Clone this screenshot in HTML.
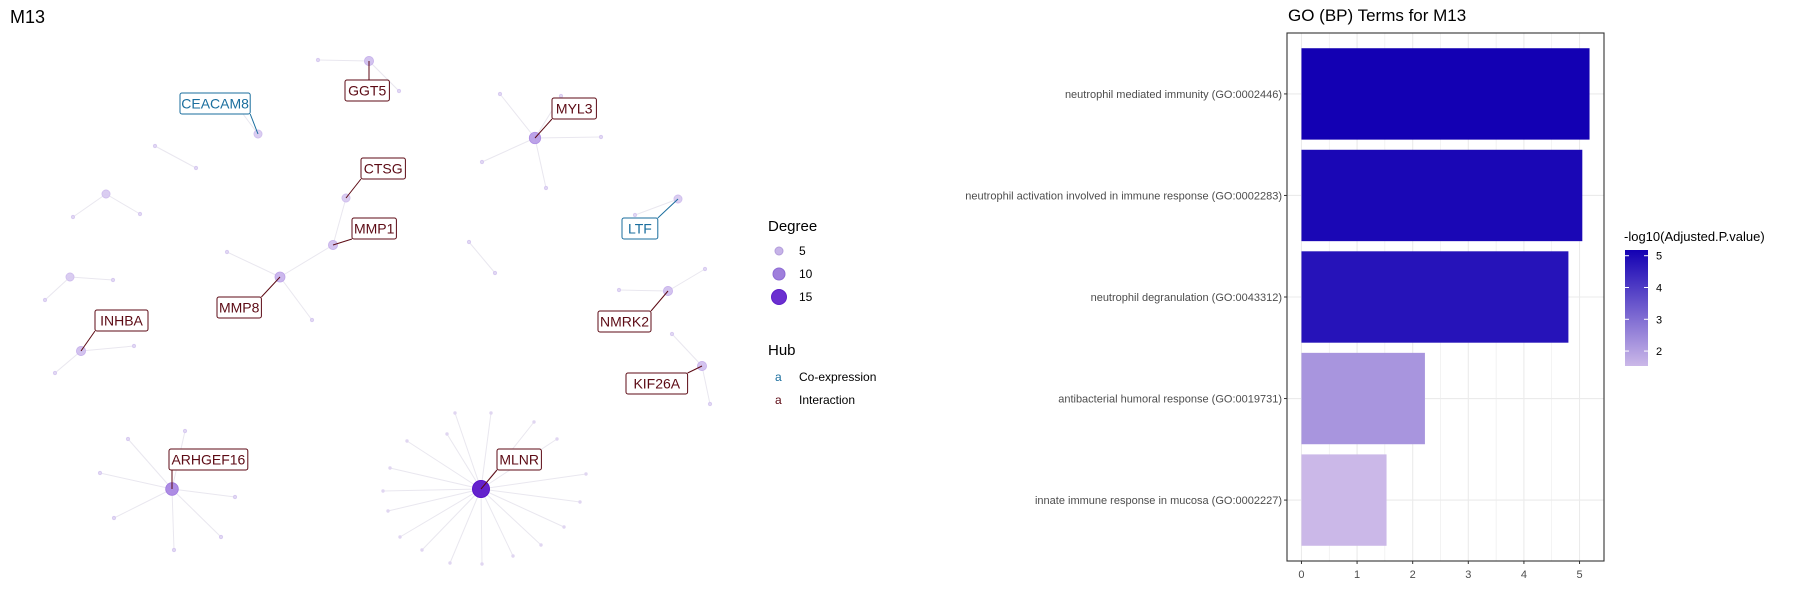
<!DOCTYPE html>
<html><head><meta charset="utf-8"><style>
body{margin:0;background:#fff;}
svg{display:block;font-family:"Liberation Sans",sans-serif;}
</style></head><body>
<svg id="root" width="1800" height="600" viewBox="0 0 1800 600">
<rect width="1800" height="600" fill="#fff"/>
<text x="10" y="23" font-size="18" fill="#000">M13</text>
<g id="net"></g>
<g id="netlegend">
<text x="768" y="231" font-size="15" fill="#000">Degree</text>
<circle cx="779" cy="251" r="4" fill="#c6b3e8" stroke="#b39ddb"/>
<text x="799" y="255" font-size="12">5</text>
<circle cx="779" cy="274" r="6" fill="#9f7fdc" stroke="#8d6bd4"/>
<text x="799" y="278" font-size="12">10</text>
<circle cx="779" cy="297" r="7.5" fill="#6b2fd0" stroke="#5d20c8"/>
<text x="799" y="301" font-size="12">15</text>
<text x="768" y="355" font-size="15" fill="#000">Hub</text>
<text x="775" y="381" font-size="12" fill="#1a6e9e">a</text>
<text x="799" y="381" font-size="12">Co-expression</text>
<text x="775" y="404" font-size="12" fill="#5c0a14">a</text>
<text x="799" y="404" font-size="12">Interaction</text>
</g>
<text x="1288" y="21" font-size="17" fill="#000">GO (BP) Terms for M13</text>
<g id="bar"></g>
<defs><linearGradient id="cb" x1="0" y1="1" x2="0" y2="0">
<stop offset="0" stop-color="#cbb8e8"/><stop offset="1" stop-color="#1300b3"/></linearGradient></defs>
<g id="cbar">
<text x="1624" y="241" font-size="13" fill="#000">-log10(Adjusted.P.value)</text>
</g>
</svg>
<script>
const NS="http://www.w3.org/2000/svg";
function mk(p,t,a){const e=document.createElementNS(NS,t);for(const k in a)e.setAttribute(k,a[k]);p.appendChild(e);return e;}

// ---- network data ----
const nodeNames=["GGT5","ggl1","ggl2","CEACAM8","pa1","pa2","MYL3","my1","my2","my3","my4","my5","CTSG","MMP1","MMP8","m8a","m8b","pb1","pb2","pb3","tr1","tr2","tr3","INHBA","in1","in2","pc1","pc2","LTF","lt1","NMRK2","nm1","nm2","KIF26A","kf1","kf2","ARHGEF16","ar1","ar2","ar3","ar4","ar5","ar6","ar7","MLNR"];
const nodeX=[369,318,399,258,155,196,535,500,561,601,482,546,346,333,280,227,312,70,113,45,106,73,140,81,134,55,469,495,678,635,668,619,705,702,672,710,172,185,128,100,235,114,221,174,481];
const nodeY=[61,60,91,134,146,168,138,94,96,137,162,188,198,245,277,252,320,277,280,300,194,217,214,351,346,373,242,273,199,215,291,290,269,366,334,404,489,431,439,473,497,518,537,550,489];
const nodeDegree=[3,1,1,2,1,1,6,1,1,1,1,1,2,3,4,1,1,2,1,1,2,1,1,3,1,1,1,1,2,1,3,1,1,3,1,1,8,1,1,1,1,1,1,1,18];
const edgeFrom=[0,0,4,6,6,6,6,6,12,13,14,14,17,17,20,20,23,23,26,28,30,30,33,33,36,36,36,36,36,36,36];
const edgeTo=[1,2,5,7,8,9,10,11,13,14,15,16,18,19,21,22,24,25,27,29,31,32,34,35,37,38,39,40,41,42,43];
const mlnrLeafX=[455,491,534,557,407,447,390,586,383,580,388,564,400,541,422,513,450,482];
const mlnrLeafY=[413,413,422,439,441,434,468,474,491,502,511,527,537,545,550,556,563,564];
const labelText=["GGT5","CEACAM8","MYL3","CTSG","MMP1","MMP8","INHBA","LTF","NMRK2","KIF26A","ARHGEF16","MLNR"];
const labelNode=[0,3,6,12,13,14,23,28,30,33,36,44];
const labelCoexp=[0,1,0,0,0,0,0,1,0,0,0,0];
const labelX=[345,180,552,361,352,217,95,622,598,626,169,497];
const labelY=[80,93,98,158,218,297,310,218,311,373,449,449];

const net=document.getElementById('net');
const eg=mk(net,'g',{stroke:'#e9e7ef','stroke-width':1});
for(let i=0;i<edgeFrom.length;i++){
  const a=edgeFrom[i],b=edgeTo[i];
  const l=mk(eg,'line',{x1:nodeX[a],y1:nodeY[a],x2:nodeX[b],y2:nodeY[b]});
  
  
}
mk(eg,'line',{x1:258,y1:134,x2:243,y2:114});
const hub=44;
for(let i=0;i<mlnrLeafX.length;i++){
  const l=mk(eg,'line',{x1:nodeX[hub],y1:nodeY[hub],x2:mlnrLeafX[i],y2:mlnrLeafY[i]});
  
  
}
function nodeColor(d){const t=Math.min(1,(d-1)/17);const c0=[222,212,242],c1=[84,10,200];return 'rgb('+c0.map((v,i)=>Math.round(v+(c1[i]-v)*t)).join(',')+')';}
function nodeR(d){return 1.8+Math.sqrt(d)*1.6;}
for(let i=0;i<mlnrLeafX.length;i++){
  const c=mk(net,'circle',{cx:mlnrLeafX[i],cy:mlnrLeafY[i],r:1.7,fill:'#e0d6f1'});
  
  
}
for(let i=0;i<nodeX.length;i++){
  const d=nodeDegree[i];
  const c=mk(net,'circle',{cx:nodeX[i],cy:nodeY[i],r:d===1?1.7:nodeR(d),fill:nodeColor(d),'fill-opacity':0.9,stroke:nodeColor(d+1),'stroke-width':0.8});
  
  
}
for(let i=0;i<labelText.length;i++){
  const col=labelCoexp[i]?'#1a6e9e':'#5c0a14';
  const n=labelNode[i];
  const w=labelText[i].length*8.6+10, h=21;
  const x=labelX[i], y=labelY[i];
  const px=Math.max(x,Math.min(x+w,nodeX[n])), py=Math.max(y,Math.min(y+h,nodeY[n]));
  mk(net,'line',{x1:nodeX[n],y1:nodeY[n],x2:px,y2:py,stroke:col,'stroke-width':1});
  const g=mk(net,'g',{});
  
  
  mk(g,'rect',{x:x,y:y,width:w,height:h,rx:2,fill:'#fff',stroke:col,'stroke-width':1});
  const t=mk(g,'text',{x:x+w/2,y:y+15.5,'text-anchor':'middle','font-size':14,fill:col});
  t.textContent=labelText[i];
}

// ---- bar chart data ----
const terms=["neutrophil mediated immunity (GO:0002446)","neutrophil activation involved in immune response (GO:0002283)","neutrophil degranulation (GO:0043312)","antibacterial humoral response (GO:0019731)","innate immune response in mucosa (GO:0002227)"];
const values=[5.18,5.05,4.80,2.22,1.53];
const xTicks=[0,1,2,3,4,5];
const cbTicks=[2,3,4,5];

const PL=1287,PR=1604,PT=33,PB=561;
const xmin=-0.26, xmax=5.44;
function X(v){return PL+(v-xmin)/(xmax-xmin)*(PR-PL);}
const band=(PB-PT)/(terms.length+0.2);
function Y(i){return PT+band*(0.6+i);}
const vmin=1.53,vmax=5.18;
function col(v){const t=(v-vmin)/(vmax-vmin);const c0=[203,184,232],c1=[19,0,179];return 'rgb('+c0.map((a,k)=>Math.round(a+(c1[k]-a)*t)).join(',')+')';}
const bar=document.getElementById('bar');
for(let v=0;v<=5.5;v+=0.5){
  if(X(v)>PR)break;
  mk(bar,'line',{x1:X(v),x2:X(v),y1:PT,y2:PB,stroke:'#ebebeb','stroke-width':v%1?0.6:1.1});
}
for(let i=0;i<terms.length;i++) mk(bar,'line',{x1:PL,x2:PR,y1:Y(i),y2:Y(i),stroke:'#ebebeb','stroke-width':1.1});
for(let i=0;i<terms.length;i++){
  const r=mk(bar,'rect',{x:X(0),y:Y(i)-band*0.45,width:X(values[i])-X(0),height:band*0.9,fill:col(values[i])});
  
  
  mk(bar,'line',{x1:PL-3,x2:PL,y1:Y(i),y2:Y(i),stroke:'#333'});
  const t=mk(bar,'text',{x:PL-5,y:Y(i)+4,'text-anchor':'end','font-size':11,fill:'#4d4d4d'});
  t.textContent=terms[i];
  
  
}
for(const v of xTicks){
  mk(bar,'line',{x1:X(v),x2:X(v),y1:PB,y2:PB+3,stroke:'#333'});
  const t=mk(bar,'text',{x:X(v),y:PB+17,'text-anchor':'middle','font-size':11,fill:'#4d4d4d'});
  t.textContent=v;
  
  
}
const fr=mk(bar,'rect',{x:PL,y:PT,width:PR-PL,height:PB-PT,fill:'none',stroke:'#333','stroke-width':1.1});



const cbar=document.getElementById('cbar');
const CT=250,CB=366,CX=1625,CW=23;
function CY(v){return CB-(v-vmin)/(vmax-vmin)*(CB-CT);}
const cr=mk(cbar,'rect',{x:CX,y:CT,width:CW,height:CB-CT,fill:'url(#cb)'});


for(const v of cbTicks){
  mk(cbar,'line',{x1:CX,x2:CX+4,y1:CY(v),y2:CY(v),stroke:'#fff'});
  mk(cbar,'line',{x1:CX+CW-4,x2:CX+CW,y1:CY(v),y2:CY(v),stroke:'#fff'});
  const t=mk(cbar,'text',{x:CX+CW+8,y:CY(v)+4,'font-size':11,fill:'#000'});
  t.textContent=v;
  
  
}
</script>
</body></html>
